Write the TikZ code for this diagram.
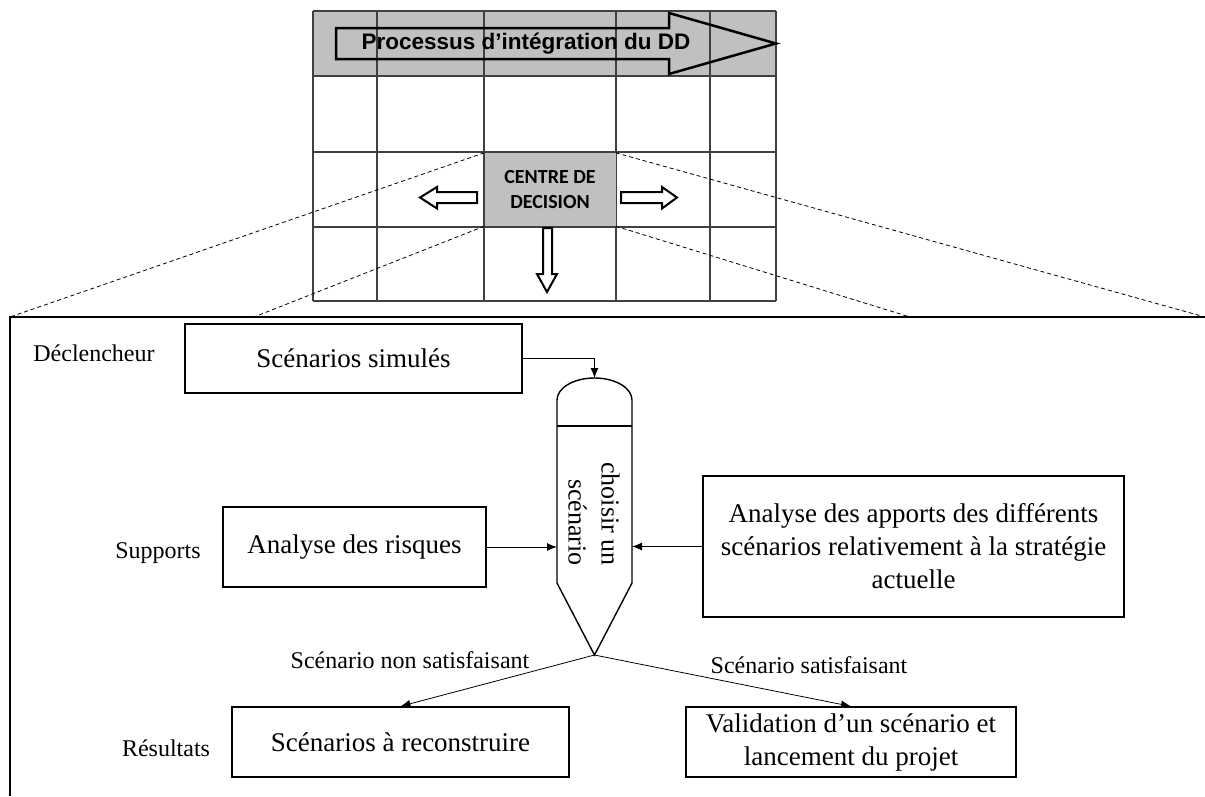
\documentclass[tikz,border=0pt]{standalone}
\usepackage{fontspec}
\setmainfont{Liberation Serif}
\newfontfamily\arialfont{Liberation Sans}
\newfontfamily\calfont{Carlito}
\usetikzlibrary{arrows.meta,calc}
\definecolor{cellgrey}{HTML}{C0C0C0}
\definecolor{gridc}{HTML}{404040}
\begin{document}
\begin{tikzpicture}[x=1pt,y=-1pt,
 box/.style={draw,line width=1.4pt,inner sep=0pt,align=center,font=\fontsize{27}{33}\selectfont},
 lab/.style={inner sep=0pt,font=\fontsize{24}{28}\selectfont},
 conn/.style={line width=0.8pt,-{Latex[length=10pt,width=8pt]}},
 blk/.style={draw,line width=2pt,fill=white,line join=miter},
 gridl/.style={draw=gridc,line width=1.3pt},
 dsh/.style={line width=0.8pt,dash pattern=on 4pt off 3pt}]
\useasboundingbox (0,0) rectangle (1205,796);

% ---- table ----
\fill[cellgrey] (313,11) rectangle (776,76);
\foreach \y in {11,76,152,227,301} \draw[gridl] (313,\y) -- (776,\y);
\foreach \x in {313,377,484,616,710,776} \draw[gridl] (\x,11) -- (\x,301);

\node[fill=cellgrey,minimum width=131pt,minimum height=73pt,inner sep=0pt,align=center,
      font=\calfont\bfseries\fontsize{20}{25}\selectfont] (cd) at (550,189.5) {CENTRE DE\\DECISION};

% top process arrow
\draw[line width=2.5pt,line join=miter] (336,28) -- (669,28) -- (669,13) -- (776,43.5)
      -- (669,74) -- (669,59) -- (336,59) -- cycle;
\node[inner sep=0pt,font=\arialfont\bfseries\fontsize{22.5}{26}\selectfont] (proc) at (526,44)
      {Processus d’intégration du DD};

% block arrows
\draw[blk] (477,192) -- (437,192) -- (437,187) -- (420,197.5) -- (437,208.5) -- (437,203)
      -- (477,203) -- cycle;
\draw[blk] (621,192) -- (662,192) -- (662,187) -- (677,197.5) -- (662,208.5) -- (662,203)
      -- (621,203) -- cycle;
\draw[blk] (543,228) -- (543,274) -- (537,274) -- (547,292) -- (557,274) -- (552,274)
      -- (552,228) -- cycle;

% ---- frame and zoom lines ----
\coordinate (fl) at (10,317);
\coordinate (fil) at (254,317);
\coordinate (fir) at (910,317);
\coordinate (fr) at (1205,317);
\draw[line width=1.8pt] (fr) -- (fl) -- (10,796);
\draw[dsh] (cd.north west) -- (fl);
\draw[dsh] (cd.south west) -- (fil);
\draw[dsh] (cd.north east) -- (fr);
\draw[dsh] (cd.south east) -- (fir);

% ---- labels ----
\node[lab] (dec) at (94,353) {Déclencheur};
\node[lab] (sup) at (158,553) {Supports};
\node[lab] (res) at (166,748) {Résultats};

% ---- boxes ----
\node[box,minimum width=337pt,minimum height=69pt] (sim) at (353.5,358.5) {Scénarios simulés};
\node[box,minimum width=263pt,minimum height=80pt] (risk) at (354.5,547) {Analyse des risques};
\node[box,minimum width=421pt,minimum height=141pt] (apport) at (913.5,546.5)
  {Analyse des apports des différents\\scénarios relativement à la stratégie\\actuelle};
\node[box,minimum width=337pt,minimum height=70pt] (recon) at (400.5,742) {Scénarios à reconstruire};
\node[box,minimum width=330pt,minimum height=70pt] (valid) at (851,742)
  {Validation d’un scénario et\\lancement du projet};

% ---- decision shape ----
\draw[line width=1.4pt,line join=miter] (557,583) -- (557,400)
   arc[start angle=180,end angle=360,x radius=37.5,y radius=22] -- (632,583) -- (594.5,655) -- cycle;
\draw[line width=1.4pt] (557,426) -- (632,426);
\coordinate (chtop) at (594.5,378);
\coordinate (chl) at (557,546);
\coordinate (chr) at (632,546);
\coordinate (chbot) at (594.5,655);
\node[rotate=-90,align=right,inner sep=0pt,font=\fontsize{26}{33}\selectfont] (chtxt) at (594,514)
  {choisir un\\scénario};

% ---- connectors ----
\draw[conn] (sim.east) -| (chtop);
\draw[conn] (risk.east) -- (risk.east -| chl);
\draw[conn] (apport.west) -- (apport.west -| chr);
\draw[conn] (chbot) -- (recon.north);
\draw[conn] (chbot) -- (valid.north);

\node[lab] (nsat) at (410,660) {Scénario non satisfaisant};
\node[lab] (sat) at (809,665) {Scénario satisfaisant};
\end{tikzpicture}
\end{document}
